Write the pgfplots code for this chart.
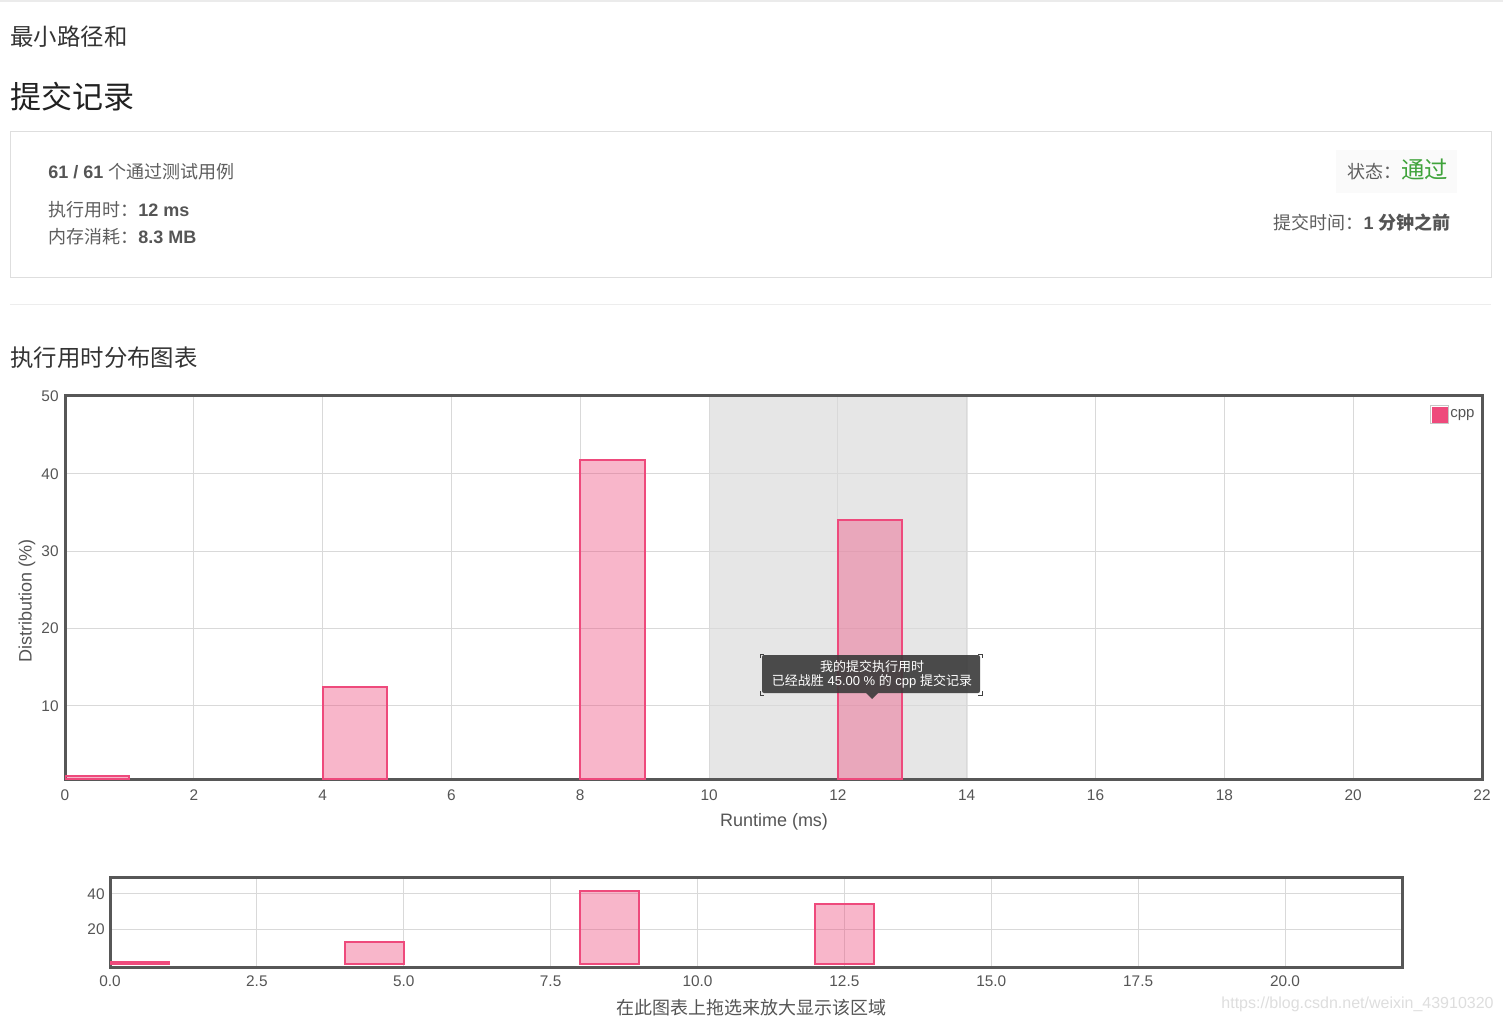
\documentclass[border=0pt]{standalone}
\usepackage{pgfplots}
\pgfplotsset{compat=1.18}
\usepackage{fontspec}
\setmainfont{Liberation Sans}
\newfontfamily\cjk{Noto Sans CJK SC}
\definecolor{txt}{HTML}{555555}
\definecolor{dark}{HTML}{333333}
\definecolor{body}{HTML}{5E5E5E}
\definecolor{frame}{HTML}{575757}
\definecolor{cppred}{HTML}{EE4A7C}
\definecolor{okgreen}{HTML}{3FA33B}
\definecolor{tipbg}{HTML}{3A3A3A}
\definecolor{band}{HTML}{E6E6E6}
\begin{document}
\begin{tikzpicture}
\begin{scope}[x=0.5pt,y=-0.5pt]
\path[use as bounding box, fill=white] (0,0) rectangle (1503,1023);
\draw[black!8, line width=1pt] (0,1) -- (1503,1);
\node[anchor=west, inner sep=0, text=dark, font=\cjk\fontsize{11.7}{14}\selectfont] at (10,37) {最小路径和};
\node[anchor=west, inner sep=0, text=black!87, font=\cjk\fontsize{15.5}{18}\selectfont] at (10,97) {提交记录};
\draw[black!13, line width=0.5pt] (10.5,131.5) rectangle (1491.5,277.5);
\node[anchor=base west, inner sep=0, text=body] at (48,178) {\fontsize{9}{11}\selectfont{\bfseries\color{txt}61 / 61} {\cjk 个通过测试用例}};
\node[anchor=base west, inner sep=0, text=body] at (48,216) {\fontsize{9}{11}\selectfont{\cjk 执行用时：}{\bfseries\color{txt}12 ms}};
\node[anchor=base west, inner sep=0, text=body] at (48,243) {\fontsize{9}{11}\selectfont{\cjk 内存消耗：}{\bfseries\color{txt}8.3 MB}};
\fill[black!2] (1336,150) rectangle (1457,193);
\node[anchor=base west, inner sep=0, text=body] at (1347,178) {{\cjk\fontsize{9}{11}\selectfont 状态：}{\cjk\fontsize{11.7}{14}\selectfont\color{okgreen}通过}};
\node[anchor=base east, inner sep=0, text=body] at (1451,229) {\fontsize{9}{11}\selectfont{\cjk 提交时间：}{\bfseries\color{txt}1 {\cjk 分钟之前}}};
\draw[black!7, line width=0.5pt] (10,304.5) -- (1491,304.5);
\node[anchor=west, inner sep=0, text=dark, font=\cjk\fontsize{11.7}{14}\selectfont] at (10,358) {执行用时分布图表};
\node[rotate=90, inner sep=0, text=txt, font=\fontsize{9}{11}\selectfont] at (27,601) {Distribution (\%)};
\node[inner sep=0, text=txt, font=\fontsize{9}{11}\selectfont] at (774,822) {Runtime (ms)};
\node[inner sep=0, text=txt, font=\cjk\fontsize{9}{11}\selectfont] at (751,1008) {在此图表上拖选来放大显示该区域};
\node[anchor=east, inner sep=0, text=black!13, font=\fontsize{8}{10}\selectfont] at (1494,1004) {https://blog.csdn.net/weixin\_43910320};
% highlighted range 10--14 ms behind the grid
\fill[band] (709.5,395) rectangle (967.5,779);
\end{scope}

\begin{axis}[at={(32.5pt,-389.5pt)}, anchor=south west, scale only axis,
  width=708.5pt, height=191.6pt,
  xmin=0, xmax=22, ymin=0.55, ymax=50.1,
  xtick={0,2,...,22}, ytick={10,20,30,40,50},
  grid=major, major grid style={black!15, line width=0.5pt},
  major tick length=0pt,
  axis line style={draw=frame, line width=1.5pt},
  /pgf/number format/assume math mode=true,
  ticklabel style={font=\fontsize{7.7}{9}\selectfont, text=txt},
  xticklabel style={inner sep=0pt, yshift=-5pt},
  yticklabel style={inner sep=0pt, xshift=-3pt},
  legend style={at={(0.9958,0.9766)}, anchor=north east, draw=none, fill=none,
    inner sep=0pt, font=\fontsize{7.5}{9}\selectfont, text=txt, nodes={inner sep=0.6pt}},
  legend image code/.code={\draw[black!22, line width=0.5pt, fill=white, fill opacity=1] (0pt,-4.5pt) rectangle (9pt,4.5pt); \fill[cppred, fill opacity=1] (1pt,-3.5pt) rectangle (8pt,3.5pt);},
]
\addplot[ybar, bar width=1, draw=cppred, line width=1pt, fill=cppred, fill opacity=0.4] coordinates {(0.5,0.94) (4.5,12.45) (8.5,41.8) (12.5,34.05)};
\addlegendentry{cpp}
\end{axis}

\begin{axis}[at={(55pt,-483.5pt)}, anchor=south west, scale only axis,
  width=646.25pt, height=45pt,
  xmin=0, xmax=22, ymin=-1.7, ymax=49.7,
  xtick={0,2.5,...,20}, ytick={20,40},
  grid=major, major grid style={black!15, line width=0.5pt},
  major tick length=0pt,
  axis line style={draw=frame, line width=1.5pt},
  /pgf/number format/assume math mode=true,
  ticklabel style={font=\fontsize{7.7}{9}\selectfont, text=txt},
  xticklabel style={inner sep=0pt, yshift=-4pt, /pgf/number format/fixed, /pgf/number format/fixed zerofill, /pgf/number format/precision=1},
  yticklabel style={inner sep=0pt, xshift=-2.5pt},
]
\addplot[ybar, bar width=1, draw=cppred, line width=1pt, fill=cppred, fill opacity=0.4] coordinates {(0.5,0.94) (4.5,12.45) (8.5,41.8) (12.5,34.05)};
\end{axis}

\begin{scope}[x=0.5pt,y=-0.5pt]
\fill[tipbg, fill opacity=0.9, rounded corners=1pt] (762,655) rectangle (980,693);
\fill[tipbg, fill opacity=0.9] (866,693) -- (878,693) -- (872,699) -- cycle;
\draw[black!75, line width=0.5pt] (760,658) -- (760,654) -- (764,654);
\draw[black!75, line width=0.5pt] (978,654) -- (982,654) -- (982,658);
\draw[black!75, line width=0.5pt] (760,691) -- (760,695) -- (764,695);
\draw[black!75, line width=0.5pt] (978,695) -- (982,695) -- (982,691);
\node[inner sep=0, text=white, font=\fontsize{6.5}{8}\selectfont] at (872,667) {\cjk 我的提交执行用时};
\node[inner sep=0, text=white, font=\fontsize{6.5}{8}\selectfont] at (872,681) {{\cjk 已经战胜} 45.00 \% {\cjk 的} cpp {\cjk 提交记录}};
\end{scope}
\end{tikzpicture}
\end{document}
